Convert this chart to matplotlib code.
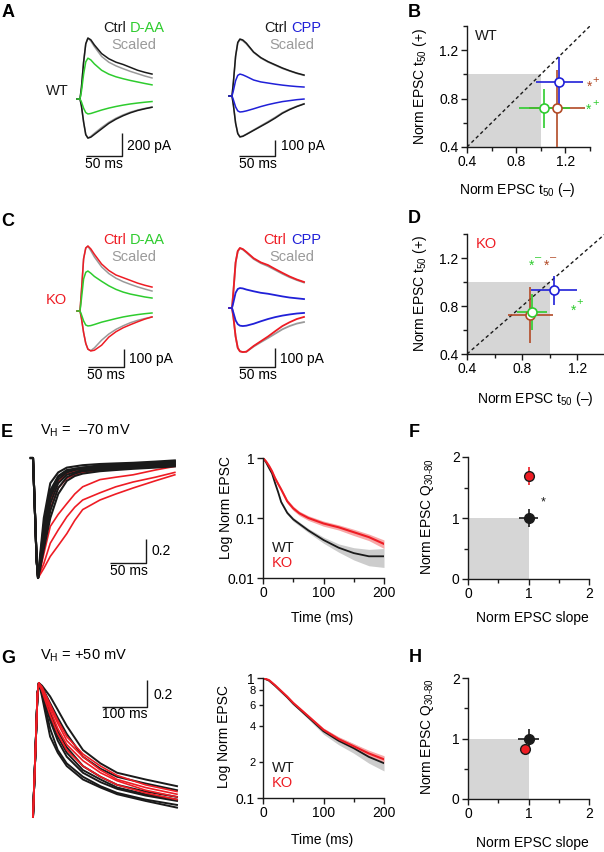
import numpy as np
import matplotlib
matplotlib.use('Agg')
import matplotlib.pyplot as plt

plt.rcParams['font.family'] = ['Liberation Sans', 'DejaVu Sans']
plt.rcParams['mathtext.fontset'] = 'custom'
plt.rcParams['mathtext.rm'] = 'Liberation Sans'
plt.rcParams['mathtext.it'] = 'Liberation Sans:italic'
plt.rcParams['mathtext.bf'] = 'Liberation Sans:bold'
plt.rcParams['axes.unicode_minus'] = False

# ---------------- colours ----------------
GREEN = '#2ecc2e'
BLUE = '#2020d8'
RED = '#ee1c24'
GRAY = '#9a9a9a'
BROWN = '#b24a26'
BOXGRAY = '#d6d6d6'
INK = '#1a1a1a'

# ---------------- data: panel A / C traces (pA) ----------------
t_trace = [-4, 0, 2, 5, 8, 11, 15, 20, 30, 40, 50, 60, 70, 80, 90, 100]

wt_daa_ctrl_pos = [0, 0, 100, 320, 480, 530, 515, 470, 395, 350, 320, 300, 275, 250, 232, 217]
wt_daa_scaled_pos = [0, 0, 100, 320, 480, 528, 505, 455, 370, 320, 288, 263, 240, 220, 200, 183]
wt_daa_drug_pos = [0, 0, 67, 215, 323, 355, 340, 305, 250, 216, 193, 176, 161, 148, 135, 123]
wt_daa_ctrl_neg = [0, 0, -60, -200, -310, -340, -332, -308, -260, -212, -175, -145, -120, -100, -85, -72]
wt_daa_scaled_neg = [0, 0, -60, -200, -310, -338, -325, -298, -248, -203, -167, -138, -114, -96, -82, -70]
wt_daa_drug_neg = [0, 0, -25, -80, -118, -130, -126, -116, -96, -79, -65, -53, -43, -35, -28, -22]

wt_cpp_ctrl_pos = [0, 0, 90, 250, 335, 356, 350, 330, 275, 240, 215, 195, 175, 158, 143, 131]
wt_cpp_scaled_pos = [0, 0, 88, 245, 330, 352, 345, 325, 272, 237, 212, 192, 172, 156, 141, 129]
wt_cpp_drug_pos = [0, 0, 35, 96, 129, 137, 132, 122, 100, 88, 81, 74, 68, 63, 59, 56]
wt_cpp_ctrl_neg = [0, 0, -60, -170, -235, -256, -252, -240, -215, -190, -165, -138, -108, -85, -66, -50]
wt_cpp_scaled_neg = [0, 0, -58, -168, -233, -254, -250, -238, -212, -186, -160, -133, -104, -82, -64, -48]
wt_cpp_drug_neg = [0, 0, -25, -68, -93, -100, -98, -93, -80, -66, -54, -44, -35, -29, -23, -19]

ko_daa_ctrl_pos = [0, 0, 110, 290, 350, 361, 345, 315, 261, 225, 200, 185, 170, 155, 143, 133]
ko_daa_scaled_pos = [0, 0, 110, 290, 350, 360, 335, 300, 245, 208, 182, 163, 148, 134, 122, 111]
ko_daa_drug_pos = [0, 0, 67, 178, 215, 222, 210, 192, 165, 140, 120, 105, 94, 86, 78, 72]
ko_daa_ctrl_neg = [0, 0, -40, -120, -180, -212, -222, -218, -190, -145, -115, -93, -76, -60, -45, -33]
ko_daa_scaled_neg = [0, 0, -40, -120, -180, -212, -220, -205, -162, -128, -102, -82, -65, -52, -42, -33]
ko_daa_drug_neg = [0, 0, -20, -55, -78, -83, -81, -75, -62, -52, -42, -33, -26, -20, -15, -11]

ko_cpp_ctrl_pos = [0, 0, 90, 240, 300, 316, 310, 295, 262, 240, 226, 205, 185, 166, 150, 137]
ko_cpp_scaled_pos = [0, 0, 88, 238, 298, 314, 308, 292, 258, 236, 220, 200, 180, 162, 147, 134]
ko_cpp_drug_pos = [0, 0, 30, 80, 100, 105, 103, 97, 88, 80, 75, 68, 61, 55, 51, 47]
ko_cpp_ctrl_neg = [0, 0, -50, -150, -210, -228, -232, -230, -200, -175, -150, -122, -95, -75, -58, -47]
ko_cpp_scaled_neg = [0, 0, -50, -150, -210, -228, -232, -230, -203, -180, -158, -135, -112, -95, -82, -74]
ko_cpp_drug_neg = [0, 0, -25, -65, -85, -93, -95, -93, -83, -70, -58, -48, -40, -34, -29, -26]

# ---------------- data: panel B / D (t50 ratios) ----------------
b_labels = ['brown', 'D-AA', 'CPP']
b_x = [1.13, 1.03, 1.15]
b_y = [0.72, 0.72, 0.94]
b_xerr = [0.23, 0.21, 0.19]
b_yerr = [0.32, 0.16, 0.20]

d_x = [0.86, 0.87, 1.03]
d_y = [0.725, 0.75, 0.93]
d_xerr = [0.16, 0.11, 0.165]
d_yerr = [0.23, 0.15, 0.12]

# ---------------- data: panel E (VH -70 mV) ----------------
t_e = [-3, 0, 3, 5, 7, 10, 15, 24, 35, 47, 58, 69, 93, 115, 139, 170, 197]
e_wt_traces = [
    [0, 0, -0.5, -0.85, -1, -0.80, -0.50, -0.21, -0.12, -0.08, -0.07, -0.06, -0.05, -0.045, -0.04, -0.03, -0.02],
    [0, 0, -0.5, -0.85, -1, -0.83, -0.56, -0.27, -0.15, -0.10, -0.09, -0.08, -0.07, -0.06, -0.05, -0.04, -0.03],
    [0, 0, -0.5, -0.85, -1, -0.86, -0.62, -0.33, -0.18, -0.12, -0.10, -0.09, -0.08, -0.07, -0.06, -0.05, -0.04],
    [0, 0, -0.5, -0.85, -1, -0.88, -0.67, -0.38, -0.21, -0.14, -0.12, -0.10, -0.09, -0.08, -0.07, -0.06, -0.05],
    [0, 0, -0.5, -0.85, -1, -0.90, -0.72, -0.44, -0.25, -0.16, -0.13, -0.11, -0.10, -0.09, -0.08, -0.07, -0.06],
    [0, 0, -0.5, -0.85, -1, -0.92, -0.76, -0.50, -0.30, -0.19, -0.15, -0.13, -0.11, -0.10, -0.09, -0.08, -0.07],
    [0, 0, -0.5, -0.85, -1, -0.85, -0.60, -0.30, -0.16, -0.11, -0.09, -0.08, -0.06, -0.055, -0.05, -0.04, -0.03],
]
e_ko_traces = [
    [0, 0, -0.5, -0.85, -1, -0.97, -0.92, -0.82, -0.73, -0.63, -0.52, -0.43, -0.35, -0.30, -0.25, -0.19, -0.14],
    [0, 0, -0.5, -0.85, -1, -0.95, -0.88, -0.71, -0.60, -0.49, -0.41, -0.35, -0.29, -0.24, -0.20, -0.16, -0.12],
    [0, 0, -0.5, -0.85, -1, -0.93, -0.80, -0.57, -0.47, -0.38, -0.30, -0.24, -0.18, -0.16, -0.14, -0.10, -0.07],
    [0, 0, -0.5, -0.85, -1, -0.90, -0.72, -0.42, -0.25, -0.17, -0.14, -0.12, -0.10, -0.09, -0.08, -0.07, -0.06],
    [0, 0, -0.5, -0.85, -1, -0.87, -0.65, -0.35, -0.20, -0.13, -0.11, -0.10, -0.08, -0.075, -0.07, -0.06, -0.05],
]

t_log = [0, 5, 10, 15, 20, 25, 30, 40, 50, 60, 75, 100, 125, 150, 175, 200]
e_wt_mean = [1, 0.85, 0.68, 0.55, 0.38, 0.27, 0.185, 0.122, 0.095, 0.08, 0.062, 0.043, 0.032, 0.026, 0.023, 0.023]
e_wt_sem = [0, 0.01, 0.02, 0.02, 0.02, 0.015, 0.012, 0.008, 0.007, 0.006, 0.005, 0.005, 0.005, 0.006, 0.007, 0.008]
e_ko_mean = [1, 0.88, 0.74, 0.60, 0.46, 0.37, 0.30, 0.19, 0.145, 0.12, 0.10, 0.081, 0.07, 0.058, 0.048, 0.037]
e_ko_sem = [0, 0.02, 0.03, 0.03, 0.03, 0.025, 0.02, 0.015, 0.012, 0.01, 0.009, 0.008, 0.007, 0.007, 0.006, 0.006]

# ---------------- data: panel F / H ----------------
f_x = [1.0, 1.0]          # WT, KO
f_y = [1.0, 1.69]
f_xerr = [0.15, 0.08]
f_yerr = [0.14, 0.15]

h_x = [1.0, 0.95]
h_y = [1.0, 0.83]
h_xerr = [0.18, 0.03]
h_yerr = [0.16, 0.03]

# ---------------- data: panel G (VH +50 mV) ----------------
t_g = [0, 5, 10, 13, 20, 38, 55, 75, 111, 150, 187, 250, 320]
g_wt_traces = [
    [0, 0.45, 0.92, 1, 0.98, 0.90, 0.80, 0.68, 0.50, 0.40, 0.33, 0.28, 0.23],
    [0, 0.45, 0.92, 1, 0.97, 0.85, 0.74, 0.62, 0.45, 0.36, 0.30, 0.25, 0.20],
    [0, 0.45, 0.92, 1, 0.95, 0.78, 0.64, 0.52, 0.38, 0.30, 0.24, 0.19, 0.15],
    [0, 0.45, 0.92, 1, 0.93, 0.72, 0.57, 0.45, 0.33, 0.26, 0.21, 0.16, 0.12],
    [0, 0.45, 0.92, 1, 0.92, 0.66, 0.50, 0.40, 0.30, 0.23, 0.18, 0.13, 0.09],
    [0, 0.45, 0.92, 1, 0.90, 0.60, 0.48, 0.38, 0.28, 0.22, 0.17, 0.12, 0.07],
    [0, 0.45, 0.92, 1, 0.94, 0.75, 0.60, 0.48, 0.35, 0.28, 0.22, 0.17, 0.13],
]
g_ko_traces = [
    [0, 0.45, 0.92, 1, 0.96, 0.82, 0.70, 0.57, 0.45, 0.35, 0.28, 0.22, 0.17],
    [0, 0.45, 0.92, 1, 0.95, 0.80, 0.66, 0.54, 0.42, 0.33, 0.27, 0.20, 0.15],
    [0, 0.45, 0.92, 1, 0.97, 0.84, 0.72, 0.60, 0.47, 0.38, 0.31, 0.24, 0.19],
    [0, 0.45, 0.92, 1, 0.94, 0.76, 0.62, 0.50, 0.38, 0.30, 0.24, 0.18, 0.13],
]

t_log2 = [0, 10, 20, 30, 40, 50, 60, 75, 100, 125, 150, 175, 200]
g_wt_mean = [1, 0.95, 0.86, 0.77, 0.69, 0.61, 0.55, 0.47, 0.36, 0.30, 0.26, 0.22, 0.195]
g_wt_sem = [0, 0.005, 0.01, 0.012, 0.014, 0.015, 0.016, 0.017, 0.02, 0.022, 0.024, 0.025, 0.027]
g_ko_mean = [1, 0.96, 0.87, 0.78, 0.70, 0.62, 0.56, 0.48, 0.37, 0.31, 0.27, 0.235, 0.21]
g_ko_sem = [0, 0.005, 0.008, 0.01, 0.01, 0.011, 0.012, 0.012, 0.013, 0.014, 0.014, 0.015, 0.015]

# ======================================================================
W, H = 604, 852
fig = plt.figure(figsize=(W / 100, H / 100), dpi=100)


def px_axes(x0, y0, x1, y1):
    ax = fig.add_axes([x0 / W, 1 - y1 / H, (x1 - x0) / W, (y1 - y0) / H])
    ax.patch.set_visible(False)
    return ax


def ftext(x, y, s, **kw):
    kw.setdefault('fontsize', 10)
    kw.setdefault('va', 'baseline')
    fig.text(x / W, 1 - y / H, s, **kw)


def trace_ax(x0, y0, x1, y1, ox, oy, sx, sy):
    ax = px_axes(x0, y0, x1, y1)
    ax.set_xlim((x0 - ox) / sx, (x1 - ox) / sx)
    ax.set_ylim((oy - y1) / sy, (oy - y0) / sy)
    ax.axis('off')
    return ax


def scalebar(ax, x, y, dx, dy):
    ax.plot([x - dx, x, x], [y, y, y + dy], color=INK, lw=1.0,
            clip_on=False, solid_capstyle='butt')


def style_ax(ax):
    for s in ['top', 'right']:
        ax.spines[s].set_visible(False)
    for s in ['left', 'bottom']:
        ax.spines[s].set_linewidth(1.0)
        ax.spines[s].set_color(INK)
    ax.tick_params(which='both', direction='out', width=1.0, labelsize=10,
                   pad=2, color=INK)
    ax.tick_params(which='major', length=4)
    ax.tick_params(which='minor', length=3)


def plot_set(ax, t, series, colors, lw=1.0):
    for ys, c in zip(series, colors):
        ax.plot(t, ys, color=c, lw=lw, clip_on=False)


# ---------------- Panel A ----------------
axA1 = trace_ax(70, 30, 170, 150, 80, 99, 0.72, 0.115)
plot_set(axA1, t_trace,
         [wt_daa_scaled_pos, wt_daa_ctrl_pos, wt_daa_drug_pos,
          wt_daa_scaled_neg, wt_daa_ctrl_neg, wt_daa_drug_neg],
         [GRAY, INK, GREEN, GRAY, INK, GREEN], lw=1.1)
scalebar(axA1, 58, -496, 50, 200)

axA2 = trace_ax(222, 30, 322, 150, 232, 96, 0.72, 0.16)
plot_set(axA2, t_trace,
         [wt_cpp_scaled_pos, wt_cpp_ctrl_pos, wt_cpp_drug_pos,
          wt_cpp_scaled_neg, wt_cpp_ctrl_neg, wt_cpp_drug_neg],
         [GRAY, INK, BLUE, GRAY, INK, BLUE], lw=1.1)
scalebar(axA2, 60, -375, 50, 100)

ftext(103, 32, 'Ctrl', color=INK, fontsize=10.5)
ftext(130, 32, 'D-AA', color=GREEN, fontsize=10.5)
ftext(134, 49, 'Scaled', color=GRAY, fontsize=10.5, ha='center')
ftext(264, 32, 'Ctrl', color=INK, fontsize=10.5)
ftext(291, 32, 'CPP', color=BLUE, fontsize=10.5)
ftext(292, 49, 'Scaled', color=GRAY, fontsize=10.5, ha='center')
ftext(46, 95, 'WT', color=INK, fontsize=10.5)
ftext(127, 150, '200 pA')
ftext(85, 168, '50 ms')
ftext(281, 150, '100 pA')
ftext(239, 168, '50 ms')

# ---------------- Panel C ----------------
axC1 = trace_ax(70, 235, 170, 375, 80, 311, 0.72, 0.18)
plot_set(axC1, t_trace,
         [ko_daa_scaled_pos, ko_daa_ctrl_pos, ko_daa_drug_pos,
          ko_daa_scaled_neg, ko_daa_ctrl_neg, ko_daa_drug_neg],
         [GRAY, RED, GREEN, GRAY, RED, GREEN], lw=1.1)
scalebar(axC1, 61, -311, 50, 100)

axC2 = trace_ax(222, 235, 322, 375, 232, 308, 0.72, 0.19)
plot_set(axC2, t_trace,
         [ko_cpp_scaled_pos, ko_cpp_ctrl_pos, ko_cpp_drug_pos,
          ko_cpp_scaled_neg, ko_cpp_ctrl_neg, ko_cpp_drug_neg],
         [GRAY, RED, BLUE, GRAY, RED, BLUE], lw=1.3)
scalebar(axC2, 60, -311, 50, 100)

ftext(103, 244, 'Ctrl', color=RED, fontsize=10.5)
ftext(130, 244, 'D-AA', color=GREEN, fontsize=10.5)
ftext(134, 261, 'Scaled', color=GRAY, fontsize=10.5, ha='center')
ftext(263, 244, 'Ctrl', color=RED, fontsize=10.5)
ftext(291, 244, 'CPP', color=BLUE, fontsize=10.5)
ftext(292, 261, 'Scaled', color=GRAY, fontsize=10.5, ha='center')
ftext(46, 304, 'KO', color=RED, fontsize=10.5)
ftext(129, 363, '100 pA')
ftext(87, 379, '50 ms')
ftext(280, 363, '100 pA')
ftext(239, 379, '50 ms')


# ---------------- Panels B and D ----------------
def t50_panel(box, xs, ys, xerrs, yerrs):
    ax = px_axes(*box)
    style_ax(ax)
    ax.set_xlim(0.4, 1.4)
    ax.set_ylim(0.4, 1.4)
    ax.fill_between([0.4, 1.0], 0.4, 1.0, color=BOXGRAY, lw=0, zorder=0)
    ax.plot([0.4, 1.4], [0.4, 1.4], ls=(0, (2.5, 2)), color=INK, lw=1.0, zorder=1)
    for x, y, xe, ye, c in zip(xs, ys, xerrs, yerrs, [BROWN, GREEN, BLUE]):
        ax.errorbar(x, y, xerr=xe, yerr=ye, fmt='o', mfc='white', mec=c,
                    ecolor=c, ms=6.5, mew=1.2, elinewidth=1.2, capsize=0,
                    zorder=3, clip_on=False)
    ax.set_xticks([0.4, 0.8, 1.2])
    ax.set_xticks([0.6, 1.0, 1.4], minor=True)
    ax.set_yticks([0.4, 0.8, 1.2])
    ax.set_yticks([0.6, 1.0, 1.4], minor=True)
    ax.set_xticklabels(['0.4', '0.8', '1.2'])
    ax.set_yticklabels(['0.4', '0.8', '1.2'])
    return ax


axB = t50_panel((467, 26, 590, 147), b_x, b_y, b_xerr, b_yerr)
axD = t50_panel((467, 234, 605, 354), d_x, d_y, d_xerr, d_yerr)

ftext(475, 40, 'WT', color=INK, fontsize=10.5)
ftext(476, 248, 'KO', color=RED, fontsize=10.5)

ftext(420, 87, r'Norm EPSC t$_{\mathrm{50}}$ (+)', rotation=90, ha='center', va='center')
ftext(517, 190, r'Norm EPSC t$_{\mathrm{50}}$ (–)', ha='center', va='center')
ftext(420, 294, r'Norm EPSC t$_{\mathrm{50}}$ (+)', rotation=90, ha='center', va='center')
ftext(535, 399, r'Norm EPSC t$_{\mathrm{50}}$ (–)', ha='center', va='center')

# significance marks
ftext(590, 91, '*', color=BROWN, ha='center')
ftext(596, 83, '+', color=BROWN, ha='center', fontsize=8)
ftext(589, 114, '*', color=GREEN, ha='center')
ftext(596, 106, '+', color=GREEN, ha='center', fontsize=8)
ftext(532, 270, '*', color=GREEN, ha='center')
ftext(538, 260, '–', color=GREEN, ha='center', fontsize=8)
ftext(547, 270, '*', color=BROWN, ha='center')
ftext(553, 260, '–', color=BROWN, ha='center', fontsize=8)
ftext(574, 315, '*', color=GREEN, ha='center')
ftext(580, 305, '+', color=GREEN, ha='center', fontsize=8)

# ---------------- Panel E ----------------
axE1 = trace_ax(25, 445, 190, 590, 33, 458, 0.72, 120)
plot_set(axE1, t_e, e_ko_traces, [RED] * len(e_ko_traces), lw=1.2)
plot_set(axE1, t_e, e_wt_traces, [INK] * len(e_wt_traces), lw=1.5)
scalebar(axE1, 157, -0.875, 50, 0.2)
ftext(152, 555, '0.2')
ftext(110, 575, '50 ms')
ftext(40, 435, r'V$_{\mathrm{H}}$ =  –70 mV', fontsize=10.5)


def log_panel(box, t, wt, wts, ko, kos, ylo):
    ax = px_axes(*box)
    style_ax(ax)
    ax.set_yscale('log')
    ax.set_xlim(0, 200)
    ax.set_ylim(ylo, 1)
    wt = np.array(wt); wts = np.array(wts)
    ko = np.array(ko); kos = np.array(kos)
    ax.fill_between(t, wt - wts, wt + wts, color='#cccccc', lw=0)
    ax.fill_between(t, ko - kos, ko + kos, color='#f7a8a8', lw=0)
    ax.plot(t, wt, color=INK, lw=1.3)
    ax.plot(t, ko, color=RED, lw=1.5)
    ax.set_xticks([0, 100, 200])
    ax.set_xticks([50, 150], minor=True)
    return ax


axE2 = log_panel((263, 458, 384, 578), t_log, e_wt_mean, e_wt_sem,
                 e_ko_mean, e_ko_sem, 0.01)
axE2.set_yticks([0.01, 0.1, 1])
axE2.set_yticklabels(['0.01', '0.1', '1'])
axE2.yaxis.set_minor_locator(matplotlib.ticker.NullLocator())
ftext(272, 552, 'WT', color=INK, fontsize=10.5)
ftext(272, 567, 'KO', color=RED, fontsize=10.5)
ftext(226, 508, 'Log Norm EPSC', rotation=90, ha='center', va='center')
ftext(322, 618, 'Time (ms)', ha='center', va='center')


# ---------------- Panels F and H ----------------
def q_panel(box, xs, ys, xerrs, yerrs, order):
    ax = px_axes(*box)
    style_ax(ax)
    ax.set_xlim(0, 2)
    ax.set_ylim(0, 2)
    ax.fill_between([0, 1], 0, 1, color=BOXGRAY, lw=0, zorder=0)
    cols = [INK, RED]
    for i in order:
        ax.errorbar(xs[i], ys[i], xerr=xerrs[i], yerr=yerrs[i], fmt='o',
                    mfc=cols[i], mec=INK, ecolor=cols[i], ms=7, mew=1.0,
                    elinewidth=1.2, capsize=0, zorder=3, clip_on=False)
    ax.set_xticks([0, 1, 2])
    ax.set_xticks([0.5, 1.5], minor=True)
    ax.set_yticks([0, 1, 2])
    ax.set_yticks([0.5, 1.5], minor=True)
    return ax


axF = q_panel((468, 457, 589, 579), f_x, f_y, f_xerr, f_yerr, [0, 1])
axH = q_panel((468, 678, 589, 799), h_x, h_y, h_xerr, h_yerr, [0, 1])
ftext(543, 505, '*', color=INK, ha='center', fontsize=9)
ftext(428, 517, r'Norm EPSC Q$_{\mathrm{30\text{-}80}}$', rotation=90, ha='center', va='center')
ftext(532, 618, 'Norm EPSC slope', ha='center', va='center')
ftext(428, 737, r'Norm EPSC Q$_{\mathrm{30\text{-}80}}$', rotation=90, ha='center', va='center')
ftext(532, 843, 'Norm EPSC slope', ha='center', va='center')

# ---------------- Panel G ----------------
axG1 = trace_ax(25, 670, 200, 825, 33, 817, 0.45, 134)
plot_set(axG1, t_g, g_wt_traces, [INK] * len(g_wt_traces), lw=1.4)
plot_set(axG1, t_g, g_ko_traces, [RED] * len(g_ko_traces), lw=1.2)
scalebar(axG1, 253, 0.82, 100, 0.2)
ftext(153, 699, '0.2')
ftext(102, 718, '100 ms')
ftext(40, 660, r'V$_{\mathrm{H}}$ = +50 mV', fontsize=10.5)

axG2 = log_panel((263, 678, 384, 798), t_log2, g_wt_mean, g_wt_sem,
                 g_ko_mean, g_ko_sem, 0.1)
axG2.set_yticks([0.1, 1])
axG2.set_yticklabels(['0.1', '1'])
axG2.set_yticks([0.2, 0.4, 0.6, 0.8], minor=True)
axG2.set_yticklabels(['2', '4', '6', '8'], minor=True, fontsize=8)
ftext(272, 772, 'WT', color=INK, fontsize=10.5)
ftext(272, 787, 'KO', color=RED, fontsize=10.5)
ftext(224, 737, 'Log Norm EPSC', rotation=90, ha='center', va='center')
ftext(322, 840, 'Time (ms)', ha='center', va='center')

# ---------------- panel letters ----------------
for lab, x, y in [('A', 2, 17), ('B', 408, 17), ('C', 1, 226), ('D', 408, 223),
                  ('E', 1, 437), ('F', 409, 437), ('G', 1, 663), ('H', 409, 662)]:
    ftext(x, y, lab, fontsize=13, fontweight='bold')

fig.savefig('out.png', dpi=100)
